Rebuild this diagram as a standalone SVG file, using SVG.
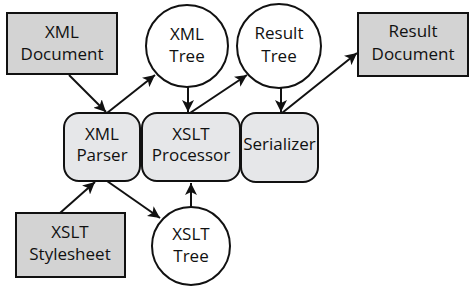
<svg xmlns="http://www.w3.org/2000/svg" width="474" height="290" viewBox="0 0 474 290">
<style>
.doc{fill:#d3d3d3;stroke:#111;stroke-width:2}
.proc{fill:#e6e7e9;stroke:#111;stroke-width:2}
.tree{fill:#fff;stroke:#111;stroke-width:2}
text{font-family:"Open Sans","Noto Sans",sans-serif;font-size:17px;fill:#111;text-anchor:middle}
.c line{stroke:#111;stroke-width:2;marker-end:url(#ah)}
</style>
<defs>
<marker id="ah" viewBox="0 0 10 10" refX="10" refY="5" markerWidth="6" markerHeight="6" markerUnits="strokeWidth" orient="auto">
<path d="M0,0 L10,5 L0,10 L2.5,5 Z" fill="#111"/>
</marker>
</defs>
<rect width="474" height="290" fill="#fff"/>
<g class="c" id="connectors">
<line x1="69" y1="75" x2="106" y2="112"/>
<line x1="107" y1="113" x2="155" y2="75"/>
<line x1="188" y1="87" x2="188" y2="112"/>
<line x1="190" y1="113" x2="247" y2="75"/>
<line x1="281" y1="87" x2="281" y2="112"/>
<line x1="282" y1="113" x2="357" y2="53"/>
<line x1="60" y1="213" x2="95" y2="182"/>
<line x1="107" y1="181" x2="160" y2="218"/>
<line x1="191" y1="207" x2="191" y2="183"/>
</g>
<g id="xml-document"><rect class="doc" x="7" y="13" width="110" height="61"/><text x="62" y="38">XML</text><text x="62" y="60">Document</text></g>
<g id="xml-tree"><circle class="tree" cx="187" cy="46" r="41"/><text x="187" y="40">XML</text><text x="187" y="62">Tree</text></g>
<g id="result-tree"><circle class="tree" cx="279" cy="46" r="42"/><text x="279" y="39">Result</text><text x="279" y="62">Tree</text></g>
<g id="result-document"><rect class="doc" x="358" y="13" width="110" height="63"/><text x="413" y="37">Result</text><text x="413" y="60">Document</text></g>
<g id="xml-parser"><rect class="proc" x="64" y="113" width="76" height="68" rx="15"/><text x="102" y="140">XML</text><text x="102" y="161">Parser</text></g>
<g id="xslt-processor"><rect class="proc" x="142" y="113" width="98" height="68" rx="15"/><text x="191" y="140">XSLT</text><text x="191" y="161">Processor</text></g>
<g id="serializer"><rect class="proc" x="241" y="113" width="77" height="69" rx="15"/><text x="279.5" y="150">Serializer</text></g>
<g id="xslt-stylesheet"><rect class="doc" x="16" y="213" width="109" height="64"/><text x="70" y="238">XSLT</text><text x="70" y="260">Stylesheet</text></g>
<g id="xslt-tree"><circle class="tree" cx="191" cy="246" r="39"/><text x="191" y="240">XSLT</text><text x="191" y="262">Tree</text></g>
</svg>
